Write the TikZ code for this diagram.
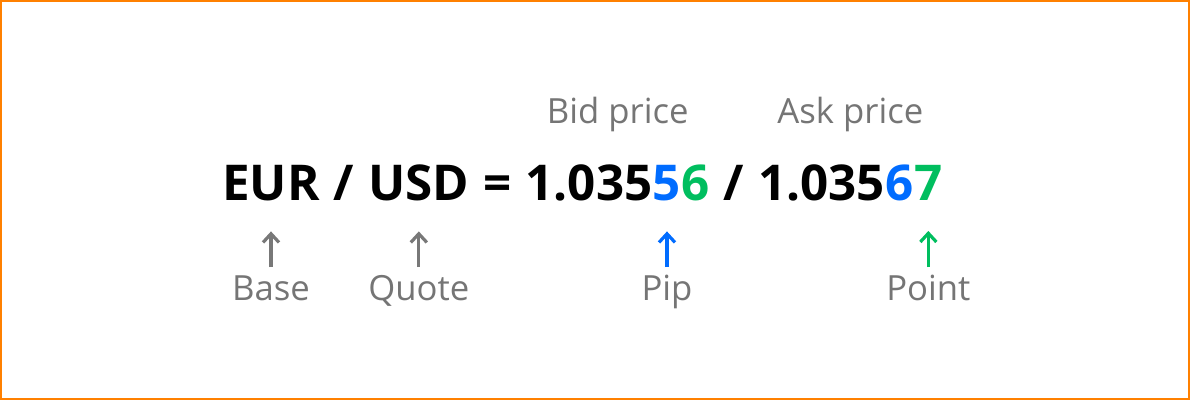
\documentclass[tikz,border=0pt]{standalone}
\usepackage{fontspec}
\setmainfont{Open Sans}
\usepackage{xcolor}
\usetikzlibrary{positioning, arrows.meta, calc}

\definecolor{framecol}{RGB}{255,128,0}
\definecolor{greytxt}{RGB}{117,117,117}
\definecolor{greyarr}{RGB}{120,120,120}
\definecolor{pipblue}{RGB}{0,108,255}
\definecolor{ptgreen}{RGB}{0,190,95}

\newcommand{\gap}{\hspace{0.275em}}

\begin{document}
\begin{tikzpicture}[x=0.75pt, y=-0.75pt,
		quote/.style={inner sep=0pt, anchor=base west, font=\fontsize{37}{40}\selectfont\bfseries},
		lbl/.style={inner sep=0pt, text=greytxt, text height=17.5pt, font=\fontsize{26}{30}\selectfont},
		ptr/.style={-{Straight Barb[length=6.5pt, width=12pt]}, line width=2.4pt, shorten <=7pt, shorten >=23pt}]
		% Frame
		\useasboundingbox (0,0) rectangle (1190,400);
		\draw[framecol, line width=1.5pt, fill=white] (1,1) rectangle (1189,399);

		% Nodes
		\node[quote] (eur) at (222,200) {EUR};
		\node[quote] (slash1) at (eur.base east) {\gap/\gap\null};
		\node[quote] (usd) at (slash1.base east) {USD};
		\node[quote] (equal) at (usd.base east) {\gap=\gap\null};
		\node[quote] (bid) at (equal.base east) {1.035};
		\node[quote, text=pipblue] (bidpip) at (bid.base east) {5};
		\node[quote, text=ptgreen] (bidpt) at (bidpip.base east) {6};
		\node[quote] (slash2) at (bidpt.base east) {\gap/\gap\null};
		\node[quote] (ask) at (slash2.base east) {1.035};
		\node[quote, text=pipblue] (askpip) at (ask.base east) {6};
		\node[quote, text=ptgreen] (askpt) at (askpip.base east) {7};

		\node[lbl, anchor=base] (bidlbl) at ($(bid.base west)!0.5!(bidpt.base east)+(0,-77)$) {Bid price};
		\node[lbl, anchor=base] (asklbl) at ($(ask.base west)!0.5!(askpt.base east)+(0,-77)$) {Ask price};

		\node[lbl, below=75pt of eur.base, anchor=base] (base) {Base};
		\node[lbl, below=75pt of usd.base, anchor=base] (quotelbl) {Quote};
		\node[lbl, below=75pt of bidpip.base, anchor=base] (pip) {Pip};
		\node[lbl, below=75pt of askpt.base, anchor=base] (point) {Point};

		% Arrows
		\draw[ptr, greyarr] (base) -- (eur);
		\draw[ptr, greyarr] (quotelbl) -- (usd);
		\draw[ptr, pipblue] (pip) -- (bidpip);
		\draw[ptr, ptgreen] (point) -- (askpt);
	\end{tikzpicture}
\end{document}
